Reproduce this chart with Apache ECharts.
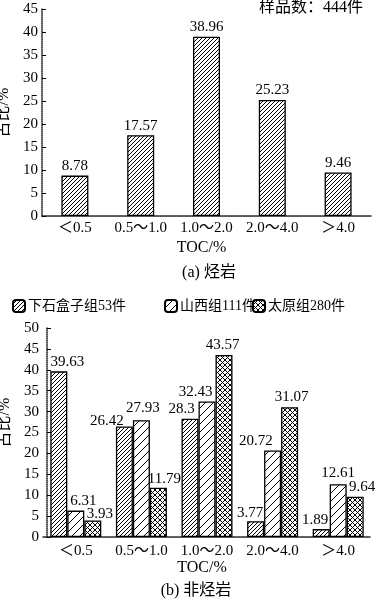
<!DOCTYPE html>
<html>
<head>
<meta charset="utf-8">
<script src="https://cdn.jsdelivr.net/npm/echarts@6/dist/echarts.min.js"></script>
<style>
html,body{margin:0;padding:0;background:#fff;}
#chart{width:379px;height:600px;}
</style>
</head>
<body>
<div id="chart"></div>
<script>
// ---- data ----
const categories = ['＜0.5', '0.5～1.0', '1.0～2.0', '2.0～4.0', '＞4.0'];
const allSamples = [8.78, 17.57, 38.96, 25.23, 9.46];
const seriesNames = ['下石盒子组53件', '山西组111件', '太原组280件'];
const xiaShiHeZi = [39.63, 26.42, 28.3, 3.77, 1.89];
const shanXi = [6.31, 27.93, 32.43, 20.72, 12.61];
const taiYuan = [3.93, 11.79, 43.57, 31.07, 9.64];
const sampleCountText = '样品数：444件';
const captionA = '(a) 烃岩';
const captionB = '(b) 非烃岩';
const yName = '占比/%';
const xName = 'TOC/%';

// ---- layout (label nudges, px) ----
const labelShift = [
  [[8.5, 0], [-17.5, 4], [-8.5, 0], [-5.5, 1], [-6, 0]],
  [[7.5, 0], [1.5, -3], [-11.5, 0], [-16.7, 0], [0, -2]],
  [[7, 3], [6, 1], [-1.5, 0], [2, -1], [7, 0]]
];

const FONT = '"Liberation Serif", "Noto Sans CJK SC", serif';

function hatch(s, lw, cross) {
  const c = document.createElement('canvas');
  c.width = s; c.height = s;
  const g = c.getContext('2d');
  g.fillStyle = '#fff'; g.fillRect(0, 0, s, s);
  g.strokeStyle = '#000'; g.lineWidth = lw;
  for (let k = -1; k <= 1; k++) {
    g.beginPath(); g.moveTo(k * s, s); g.lineTo(k * s + s, 0); g.stroke();
    if (cross) { g.beginPath(); g.moveTo(k * s, 0); g.lineTo(k * s + s, s); g.stroke(); }
  }
  return { image: c, repeat: 'repeat' };
}
const patDense = hatch(4, 1, false);
const patSparse = hatch(8, 1, false);
const patCross = hatch(5, 1, true);
const patterns = [patDense, patSparse, patCross];

const axisLineStyle = { color: '#222', width: 1.5, type: [1, 1] };

function yAxisCfg(grid, max, gap, margin, offset, pad) {
  return {
    type: 'value', gridIndex: grid, min: 0, max: max, interval: 5, offset: offset,
    name: yName, nameLocation: 'middle', nameGap: gap,
    nameTextStyle: { fontFamily: FONT, fontSize: 16, color: '#000', padding: pad },
    axisLine: { show: true, lineStyle: axisLineStyle },
    axisTick: { show: true, inside: true, length: 4, lineStyle: { color: '#000', width: 1 } },
    axisLabel: { fontFamily: FONT, fontSize: 15, color: '#000', margin: margin },
    splitLine: { show: false }
  };
}
function xAxisCfg(grid, margin, gap) {
  return {
    type: 'category', gridIndex: grid, data: categories,
    name: xName, nameLocation: 'middle', nameGap: gap,
    nameTextStyle: { fontFamily: FONT, fontSize: 16, color: '#000', padding: [0, 10, 0, 0] },
    axisLine: { show: true, lineStyle: axisLineStyle },
    axisTick: { show: false },
    axisLabel: { fontFamily: FONT, fontSize: 15, color: '#000', margin: margin, interval: 0 }
  };
}

const labelBase = { show: true, position: 'top', distance: 2, fontFamily: FONT, fontSize: 15, color: '#000' };

const bottomData = [xiaShiHeZi, shanXi, taiYuan];
const bottomSeries = bottomData.map((vals, s) => ({
  name: seriesNames[s], type: 'bar', xAxisIndex: 1, yAxisIndex: 1,
  barWidth: 17, barGap: '0%',
  itemStyle: { color: patterns[s], borderColor: '#000', borderWidth: 1.3 },
  label: labelBase,
  data: vals.map((v, i) => ({ value: v, label: { offset: labelShift[s][i] } }))
}));

const legends = [12, 164, 252].map((lx, s) => ({
  data: [seriesNames[s]], left: lx, top: 299, itemWidth: 12, itemHeight: 12, itemGap: 4,
  padding: 0,
  textStyle: { fontFamily: FONT, fontSize: 14, color: '#000', padding: [0, 0, 0, -2] },
  selectedMode: false
}));

const chart = echarts.init(document.getElementById('chart'), null, { renderer: 'canvas' });
chart.setOption({
  backgroundColor: '#fff',
  animation: false,
  legend: legends,
  grid: [
    { left: 42, right: 8, top: 9, height: 207, containLabel: false, outerBoundsMode: 'none' },
    { left: 43, right: 8, top: 328, height: 209, containLabel: false, outerBoundsMode: 'none' }
  ],
  xAxis: [xAxisCfg(0, 5, 24), xAxisCfg(1, 7, 23)],
  yAxis: [yAxisCfg(0, 45, 22, 4, 0, 0), yAxisCfg(1, 50, 30, 8, -4, [0, 0, 0, 20])],
  series: [
    {
      name: 'all', type: 'bar', xAxisIndex: 0, yAxisIndex: 0, barWidth: 27,
      itemStyle: { color: patDense, borderColor: '#000', borderWidth: 1.3 },
      label: labelBase,
      data: allSamples
    }
  ].concat(bottomSeries),
  graphic: [
    { type: 'text', x: 363, y: 8, style: { text: sampleCountText, align: 'right', verticalAlign: 'middle', font: '16px ' + FONT, fill: '#000' } },
    { type: 'text', x: 209, y: 273, style: { text: captionA, align: 'center', verticalAlign: 'middle', font: '16px ' + FONT, fill: '#000' } },
    { type: 'text', x: 196, y: 591, style: { text: captionB, align: 'center', verticalAlign: 'middle', font: '16px ' + FONT, fill: '#000' } }
  ]
});
</script>
</body>
</html>
